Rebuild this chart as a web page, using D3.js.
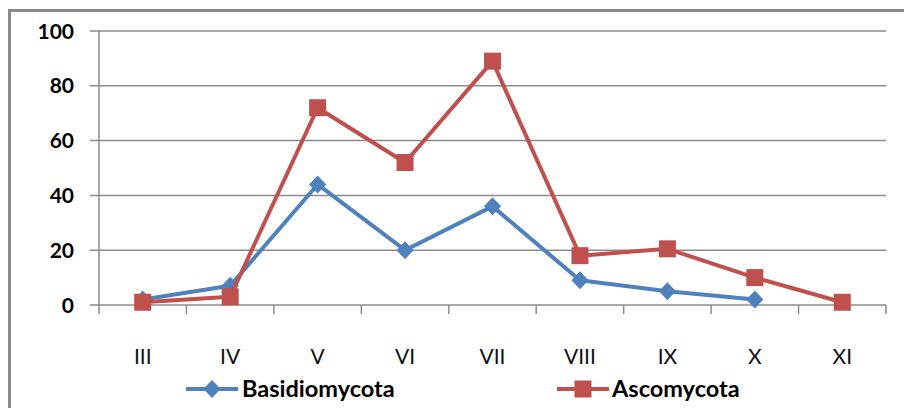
<!DOCTYPE html>
<html>
<head>
<meta charset="utf-8">
<script src="https://cdn.jsdelivr.net/npm/d3@7"></script>
<style>
  html, body { margin: 0; padding: 0; background: #fff; }
  svg { display: block; }
</style>
</head>
<body>
<svg id="chart" width="904" height="408"></svg>
<script>
// Monthly counts per phylum
const months = ["III", "IV", "V", "VI", "VII", "VIII", "IX", "X", "XI"];
const basidiomycota = [2, 7, 44, 20, 36, 9, 5, 2, null];
const ascomycota = [1, 3, 72, 52, 89, 18, 20.5, 10, 1];
const yTicks = [0, 20, 40, 60, 80, 100];

const seriesList = [
  { name: "Basidiomycota", values: basidiomycota, color: "#4F81BD", shape: "diamond" },
  { name: "Ascomycota", values: ascomycota, color: "#C0504D", shape: "square" }
];

const svg = d3.select("#chart");
const font = "Lato, 'Open Sans', sans-serif";

// outer frame (only top/left edges fall inside the view)
svg.append("rect")
  .attr("x", 9.5).attr("y", 10.5)
  .attr("width", 1000).attr("height", 1000)
  .attr("fill", "none").attr("stroke", "#8a8a8a").attr("stroke-width", 3);

const plot = { left: 99, right: 886, top: 31, bottom: 305 };

const x = d3.scaleBand().domain(months).range([plot.left, plot.right]);
const y = d3.scaleLinear().domain([0, 100]).range([plot.bottom, plot.top]);

const gridColor = "#8c8c8c";

// horizontal gridlines
svg.append("g")
  .selectAll("line")
  .data(yTicks)
  .join("line")
  .attr("x1", plot.left - 9).attr("x2", plot.right)
  .attr("y1", d => y(d)).attr("y2", d => y(d))
  .attr("stroke", gridColor).attr("stroke-width", 1.5);

// vertical axis line
svg.append("line")
  .attr("x1", plot.left).attr("x2", plot.left)
  .attr("y1", plot.top).attr("y2", plot.bottom)
  .attr("stroke", gridColor).attr("stroke-width", 1.5);

// category tick marks at band boundaries
const boundaries = months.map(m => x(m)).concat([plot.right]);
svg.append("g")
  .selectAll("line")
  .data(boundaries)
  .join("line")
  .attr("x1", d => d).attr("x2", d => d)
  .attr("y1", plot.bottom).attr("y2", plot.bottom + 9)
  .attr("stroke", gridColor).attr("stroke-width", 1.5);

// y tick labels
svg.append("g")
  .selectAll("text")
  .data(yTicks)
  .join("text")
  .attr("x", 74).attr("y", d => y(d))
  .attr("dy", "0.36em")
  .attr("text-anchor", "end")
  .attr("font-family", font).attr("font-weight", "bold")
  .attr("font-size", 21).attr("fill", "#000")
  .text(d => d);

// x tick labels
svg.append("g")
  .selectAll("text")
  .data(months)
  .join("text")
  .attr("x", d => x(d) + x.bandwidth() / 2).attr("y", 356)
  .attr("dy", "0.36em")
  .attr("text-anchor", "middle")
  .attr("font-family", font)
  .attr("font-size", 21).attr("fill", "#111")
  .text(d => d);

const cx = i => x(months[i]) + x.bandwidth() / 2;

function marker(g, shape, color, px, py) {
  if (shape === "diamond") {
    const r = 9;
    g.append("path")
      .attr("d", `M${px},${py - r}L${px + r * 0.95},${py}L${px},${py + r}L${px - r * 0.95},${py}Z`)
      .attr("fill", color);
  } else {
    const s = 17;
    g.append("rect")
      .attr("x", px - s / 2).attr("y", py - s / 2)
      .attr("width", s).attr("height", s)
      .attr("fill", color);
  }
}

const line = d3.line()
  .defined(d => d != null)
  .x((d, i) => cx(i))
  .y(d => y(d));

seriesList.forEach(s => {
  const g = svg.append("g");
  g.append("path")
    .attr("d", line(s.values))
    .attr("fill", "none")
    .attr("stroke", s.color)
    .attr("stroke-width", 4)
    .attr("stroke-linejoin", "round");
  s.values.forEach((v, i) => {
    if (v != null) marker(g, s.shape, s.color, cx(i), y(v));
  });
});

// legend
const legendItems = [
  { x0: 186, textX: 242 },
  { x0: 557, textX: 612 }
];
const ly = 389;
seriesList.forEach((s, i) => {
  const g = svg.append("g");
  const it = legendItems[i];
  g.append("line")
    .attr("x1", it.x0).attr("x2", it.x0 + 52)
    .attr("y1", ly).attr("y2", ly)
    .attr("stroke", s.color).attr("stroke-width", 4);
  marker(g, s.shape, s.color, it.x0 + 26, ly);
  g.append("text")
    .attr("x", it.textX).attr("y", ly)
    .attr("dy", "0.36em")
    .attr("font-family", font).attr("font-weight", "bold")
    .attr("font-size", 23.5).attr("fill", "#000")
    .text(s.name);
});
</script>
</body>
</html>
